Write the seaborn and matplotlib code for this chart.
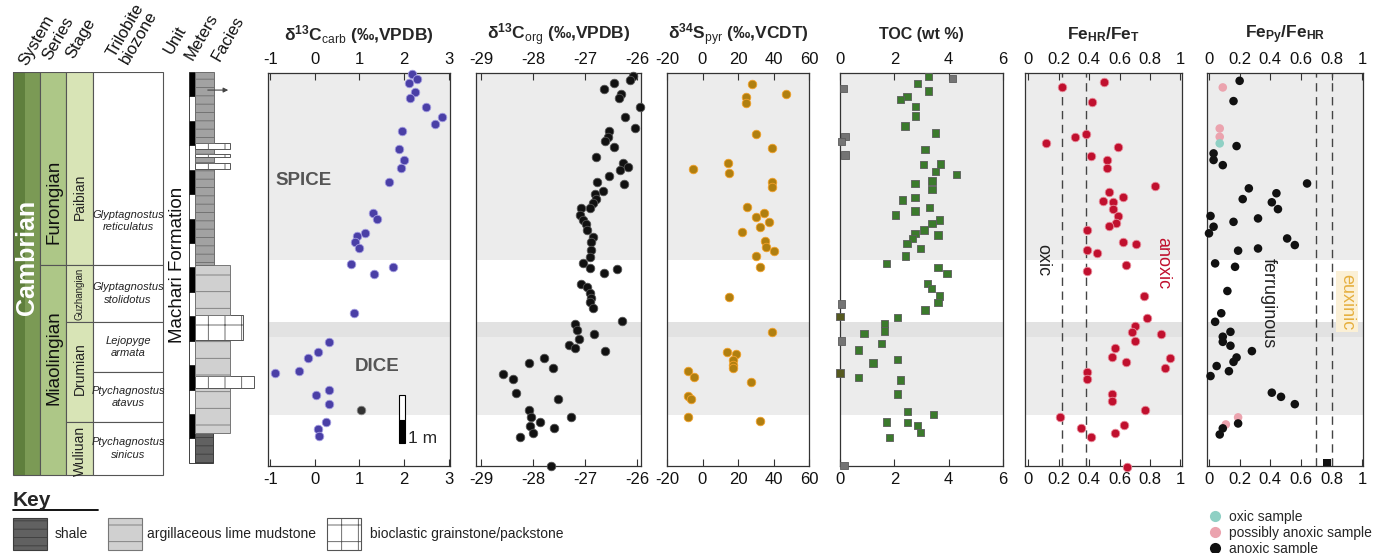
import matplotlib
matplotlib.use("Agg")
import matplotlib.pyplot as plt
import seaborn as sns
import pandas as pd


# ---------------- data (stratigraphic height in m, measured values) ----------------
carb_h = [15.92, 15.71, 15.55, 15.18, 14.93, 14.57, 14.16, 13.87, 13.58, 12.85,
          12.40, 12.07, 11.50, 10.23, 9.98, 9.41, 9.29, 9.04, 8.80, 8.14,
          8.02, 7.73, 6.15, 4.95, 4.55, 4.31, 3.78, 3.67, 2.99, 2.78,
          2.41, 1.68, 1.39, 1.10]
carb_v = [2.18, 2.28, 2.10, 2.24, 2.13, 2.49, 2.84, 2.69, 1.96, 1.88,
          2.00, 1.94, 1.66, 1.30, 1.39, 1.12, 0.95, 0.89, 0.98, 0.80,
          1.76, 1.33, 0.87, 0.32, 0.06, -0.15, -0.36, -0.89, 0.32, 0.02,
          0.32, 0.25, 0.06, 0.10]
carb_odd_h = [2.17]
carb_odd_v = [1.04]

org_h = [15.83, 15.67, 15.55, 15.30, 15.10, 14.93, 14.57, 14.16, 13.71, 13.58,
         13.34, 13.18, 12.93, 12.52, 12.27, 12.11, 11.99, 11.74, 11.50, 11.42,
         11.13, 11.01, 10.80, 10.64, 10.43, 10.43, 10.15, 9.94, 9.78, 9.53,
         9.25, 9.04, 8.72, 8.43, 8.18, 7.98, 7.94, 7.77, 7.32, 7.21,
         6.96, 6.75, 6.59, 6.35, 5.81, 5.69, 5.44, 5.28, 5.07, 4.83,
         4.71, 4.58, 4.31, 4.10, 3.87, 3.65, 3.45, 2.88, 2.62, 2.17,
         1.88, 1.87, 1.68, 1.51, 1.43, 1.24, 1.08, -0.11]
org_v = [-26.08, -26.15, -26.45, -26.64, -26.32, -26.35, -25.95, -26.23, -26.04, -26.55,
         -26.57, -26.62, -26.45, -26.80, -26.27, -26.18, -26.34, -26.55, -26.77, -26.26,
         -26.66, -26.82, -26.80, -26.85, -26.91, -27.08, -27.10, -27.04, -26.98, -26.96,
         -26.85, -26.90, -26.90, -26.91, -27.04, -26.91, -26.40, -26.64, -27.08, -26.96,
         -26.91, -26.90, -26.91, -26.86, -26.29, -27.20, -27.16, -26.84, -27.12, -27.31,
         -27.20, -26.62, -27.79, -28.09, -27.63, -28.59, -28.38, -28.33, -27.52, -28.09,
         -27.28, -28.04, -27.88, -28.06, -27.60, -28.01, -28.25, -27.66]

sulf_h = [15.51, 15.10, 14.99, 14.72, 13.45, 12.88, 12.29, 12.02, 11.85, 11.51,
          11.28, 10.46, 10.24, 10.05, 9.85, 9.64, 9.46, 9.10, 8.83, 8.69,
          8.47, 8.03, 6.80, 5.37, 4.55, 4.45, 4.21, 4.01, 3.87, 3.78,
          3.53, 3.33, 2.74, 2.61, 1.88, 1.73]
sulf_v = [28.1, 47.0, 24.5, 24.5, 30.0, 39.0, 14.4, -5.6, 15.0, 39.0,
          39.0, 24.8, 34.5, 30.3, 37.3, 32.2, 22.1, 35.4, 36.0, 40.0,
          30.3, 32.3, 15.0, 39.0, 13.9, 18.6, 17.2, 17.2, 17.2, -8.4,
          -4.8, 27.2, -8.4, -6.6, -8.4, 32.3]

toc_h = [15.81, 15.74, 15.54, 15.33, 15.23, 14.99, 14.88, 14.58, 14.20, 13.79,
         13.51, 13.35, 13.15, 12.84, 12.60, 12.23, 12.22, 11.92, 11.81, 11.54,
         11.44, 11.20, 10.86, 10.76, 10.46, 10.31, 10.15, 9.94, 9.81, 9.53,
         9.40, 9.33, 9.19, 8.99, 8.78, 8.47, 8.17, 7.99, 7.76, 7.35,
         7.15, 6.83, 6.58, 6.51, 6.26, 6.01, 5.95, 5.72, 5.41, 5.31,
         5.00, 4.90, 4.62, 4.24, 4.10, 3.69, 3.51, 3.40, 2.82, 2.10,
         1.99, 1.68, 1.67, 1.55, 1.24, 1.05, -0.11]
toc_v = [3.25, 4.15, 2.85, 0.12, 3.25, 2.46, 2.22, 2.79, 2.79, 2.39,
         3.52, 0.18, 0.06, 3.13, 0.18, 3.70, 3.07, 3.52, 4.28, 3.39,
         2.76, 3.39, 2.76, 2.30, 3.30, 2.76, 2.04, 3.67, 3.39, 3.09,
         2.76, 3.61, 2.67, 2.46, 2.97, 2.42, 1.72, 3.61, 3.94, 3.21,
         3.37, 3.67, 3.61, 0.06, 3.13, 0.00, 2.12, 1.64, 1.64, 0.88,
         0.06, 1.52, 0.67, 2.12, 1.21, 0.00, 0.67, 2.22, 2.12, 2.48,
         3.45, 1.70, 2.48, 2.85, 2.97, 1.82, 0.15]
toc_kind = ["g", "y", "g", "y", "g", "g", "g", "g", "g", "g",
            "g", "y", "y", "g", "y", "g", "g", "g", "g", "g",
            "g", "g", "g", "g", "g", "g", "g", "g", "g", "g",
            "g", "g", "g", "g", "g", "g", "g", "g", "g", "g",
            "g", "g", "g", "y", "g", "d", "g", "g", "g", "g",
            "y", "g", "g", "g", "g", "d", "g", "g", "g", "g",
            "g", "g", "g", "g", "g", "g", "y"]

fehr_h = [15.60, 15.37, 14.76, 13.45, 13.35, 13.11, 12.94, 12.57, 12.40, 12.08,
          11.35, 11.10, 10.90, 10.73, 10.69, 10.39, 10.11, 9.83, 9.70, 9.53,
          9.05, 8.95, 8.72, 8.60, 8.10, 7.87, 6.85, 5.95, 5.61, 5.37,
          5.27, 4.99, 4.69, 4.32, 4.31, 4.12, 3.87, 3.71, 3.44, 2.82,
          2.54, 2.17, 1.88, 1.55, 1.42, 1.22, 1.08, -0.15]
fehr_v = [0.50, 0.22, 0.42, 0.38, 0.31, 0.12, 0.59, 0.41, 0.52, 0.52,
          0.83, 0.53, 0.62, 0.49, 0.56, 0.56, 0.59, 0.58, 0.53, 0.39,
          0.62, 0.71, 0.39, 0.45, 0.64, 0.39, 0.76, 0.78, 0.70, 0.68,
          0.87, 0.70, 0.57, 0.55, 0.93, 0.64, 0.90, 0.39, 0.39, 0.55,
          0.55, 0.77, 0.21, 0.63, 0.35, 0.57, 0.41, 0.65]

fepy_h = [15.64, 15.37, 14.81, 13.69, 13.35, 13.08, 12.97, 12.67, 12.40, 12.19,
          11.44, 11.24, 11.04, 10.80, 10.67, 10.39, 10.11, 10.01, 9.87, 9.67,
          9.40, 9.19, 8.92, 8.78, 8.69, 8.17, 8.03, 7.04, 6.13, 5.78,
          5.37, 5.17, 4.96, 4.80, 4.58, 4.32, 4.14, 3.97, 3.76, 3.56,
          2.88, 2.71, 2.41, 1.87, 1.62, 1.58, 1.42, 1.17]
fepy_v = [0.20, 0.09, 0.16, 0.07, 0.07, 0.07, 0.18, 0.03, 0.03, 0.09,
          0.64, 0.26, 0.44, 0.22, 0.41, 0.45, 0.01, 0.32, 0.16, 0.03,
          0.00, 0.51, 0.56, 0.32, 0.19, 0.04, 0.17, 0.12, 0.08, 0.04,
          0.14, 0.09, 0.09, 0.14, 0.28, 0.18, 0.16, 0.05, 0.13, 0.01,
          0.41, 0.47, 0.56, 0.19, 0.19, 0.11, 0.09, 0.07]
fepy_kind = ["anoxic sample", "possibly anoxic sample", "anoxic sample",
             "possibly anoxic sample", "possibly anoxic sample", "oxic sample",
             "anoxic sample", "anoxic sample", "anoxic sample", "anoxic sample",
             "anoxic sample", "anoxic sample", "anoxic sample", "anoxic sample",
             "anoxic sample", "anoxic sample", "anoxic sample", "anoxic sample",
             "anoxic sample", "anoxic sample", "anoxic sample", "anoxic sample",
             "anoxic sample", "anoxic sample", "anoxic sample", "anoxic sample",
             "anoxic sample", "anoxic sample", "anoxic sample", "anoxic sample",
             "anoxic sample", "anoxic sample", "anoxic sample", "anoxic sample",
             "anoxic sample", "anoxic sample", "anoxic sample", "anoxic sample",
             "anoxic sample", "anoxic sample", "anoxic sample", "anoxic sample",
             "anoxic sample", "possibly anoxic sample", "anoxic sample",
             "possibly anoxic sample", "anoxic sample", "anoxic sample"]
fepy_sq_h = [0.03]
fepy_sq_v = [0.77]

# stratigraphic framework (m)
series_names = ["Furongian", "Miaolingian"]
series_base = [8.10, -0.5]
series_top = [16.0, 8.10]
stage_names = ["Paibian", "Guzhangian", "Drumian", "Wuliuan"]
stage_base = [8.10, 5.77, 1.68, -0.5]
stage_top = [16.0, 8.10, 5.77, 1.68]
zone_names = ["Glyptagnostus\nreticulatus", "Glyptagnostus\nstolidotus", "Lejopyge\narmata",
              "Ptychagnostus\natavus", "Ptychagnostus\nsinicus"]
zone_base = [8.10, 5.77, 3.72, 1.68, -0.5]
zone_top = [16.0, 8.10, 5.77, 3.72, 1.68]
facies_base = [0.00, 1.23, 3.07, 3.56, 5.03, 6.06, 8.10, 12.03, 12.27, 12.52, 12.64, 12.85, 13.09]
facies_top = [1.23, 3.07, 3.56, 5.03, 6.06, 8.10, 12.03, 12.27, 12.52, 12.64, 12.85, 13.09, 16.0]
facies_type = ["shale", "argillaceous", "bioclastic", "argillaceous", "bioclastic", "argillaceous",
               "shaly", "bioclastic", "shaly", "bioclastic", "shaly", "bioclastic", "shaly"]
meter_marks = list(range(16))
shade_bands = [(8.31, 16.1), (1.96, 5.77)]

# ---------------- layout / style ----------------
W, H = 1376, 553
facies_width = [18, 35, 59, 35, 48, 35, 19, 35, 19, 35, 19, 35, 19]
facies_style = {
    "shale": dict(color="#616161", hatch="--", edgecolor="#3c3c3c"),
    "shaly": dict(color="#a2a2a2", hatch="--", edgecolor="#6c6c6c"),
    "argillaceous": dict(color="#d0d0d0", hatch="-", edgecolor="#777777"),
    "bioclastic": dict(color="white", hatch="+", edgecolor="#555555"),
}
sample_palette = {"oxic sample": "#8fd0c4", "possibly anoxic sample": "#eba3ae",
                  "anoxic sample": "#111111"}

sns.set_style("white")
plt.rcParams["font.family"] = ["Liberation Sans", "DejaVu Sans"]
plt.rcParams["mathtext.fontset"] = "custom"
plt.rcParams["mathtext.rm"] = "Liberation Sans"
plt.rcParams["mathtext.bf"] = "Liberation Sans:bold"
plt.rcParams["mathtext.it"] = "Liberation Sans:italic"
plt.rcParams["hatch.linewidth"] = 0.6
plt.rcParams["axes.unicode_minus"] = False


def rect(left, top, right, bottom):
    return [left / W, 1 - bottom / H, (right - left) / W, (bottom - top) / H]


fig = plt.figure(figsize=(W / 100, H / 100), dpi=100)

# layout layer for headers and key
lay = fig.add_axes([0, 0, 1, 1], zorder=-1)
lay.set_xlim(0, W)
lay.set_ylim(H, 0)
lay.axis("off")

headers = [("System", 37, 40), ("Series", 58, 38), ("Stage", 81, 38),
           ("Trilobite\nbiozone", 132, 34), ("Unit", 175, 40), ("Meters", 201, 37),
           ("Facies", 228, 38)]
for txt, hx, hy in headers:
    lay.text(hx, hy, txt, rotation=60, ha="center", va="center", fontsize=12,
             linespacing=0.95, color="#111")

# key
lay.text(13, 500, "Key", fontsize=15, fontweight="bold", ha="left", va="center")
lay.plot([13, 98], [510, 510], color="black", lw=1.3)
key_items = [("shale", 13, 55), ("argillaceous", 108, 147), ("bioclastic", 327, 370)]
key_text = {"shale": "shale", "argillaceous": "argillaceous lime mudstone",
            "bioclastic": "bioclastic grainstone/packstone"}
for kind, kx, tx in key_items:
    st = facies_style[kind]
    lay.bar(kx + 17, 32, bottom=518, width=34, color=st["color"], hatch=st["hatch"],
            edgecolor=st["edgecolor"], linewidth=0.8)
    lay.text(tx, 534, key_text[kind], fontsize=10, ha="left", va="center", color="#222")

# ---------------- stratigraphic column ----------------
col = fig.add_axes(rect(0, 72, 260, 480))
col.set_xlim(0, 260)
col.set_ylim(-0.70, 16.0)
col.axis("off")
edge = dict(edgecolor="#555555", linewidth=0.8)

col.bar(19, 16.5, bottom=-0.5, width=12, color="#5f7f3d", linewidth=0)
col.bar(32.5, 16.5, bottom=-0.5, width=15, color="#7b9a55", linewidth=0)
col.bar(26.5, 16.5, bottom=-0.5, width=27, color="none", **edge)
col.text(27, 8.4, "Cambrian", rotation=90, ha="center", va="center", fontsize=18,
         fontweight="bold", color="white")

for name, b, t in zip(series_names, series_base, series_top):
    col.bar(53, t - b, bottom=b, width=26, color="#adc787", **edge)
    col.text(54, 10.7 if name == "Furongian" else 4.3, name, rotation=90, ha="center",
             va="center", fontsize=13.5, color="#111")

for name, b, t in zip(stage_names, stage_base, stage_top):
    col.bar(79.5, t - b, bottom=b, width=27, color="#d8e4b6", **edge)
    ypos = {"Paibian": 10.9, "Guzhangian": (b + t) / 2, "Drumian": 3.85, "Wuliuan": 0.5}[name]
    col.text(79.5, ypos, name, rotation=90, ha="center", va="center",
             fontsize=7 if name == "Guzhangian" else 10, color="#222")

for name, b, t in zip(zone_names, zone_base, zone_top):
    col.bar(128, t - b, bottom=b, width=70, color="white", **edge)
    ypos = 9.9 if b > 8 else (b + t) / 2
    col.text(128, ypos, name, ha="center", va="center", fontsize=8, style="italic",
             color="#222", linespacing=1.3)

col.text(177, 8.1, "Machari Formation", rotation=90, ha="center", va="center",
         fontsize=13.5, color="#111")

for m in meter_marks:
    col.bar(192, 1, bottom=m, width=6, color="black" if m % 2 else "white",
            edgecolor="#222", linewidth=0.6)

for b, t, kind, w in zip(facies_base, facies_top, facies_type, facies_width):
    st = facies_style[kind]
    col.bar(195 + w / 2, t - b, bottom=b, width=w, color=st["color"], hatch=st["hatch"],
            edgecolor=st["edgecolor"], linewidth=0.7)
col.annotate("", xy=(231, 15.26), xytext=(205, 15.26),
             arrowprops=dict(arrowstyle="-|>", lw=0.8, color="#444", mutation_scale=7))

# ---------------- geochemistry panels ----------------
panels = [
    (268, 450, (-1.05, 3.03), [-1, 0, 1, 2, 3], None,
     r"δ$^{\mathbf{13}}$C$_{\mathrm{carb}}$ (‰,VPDB)"),
    (476, 641, (-29.1, -25.93), [-29, -28, -27, -26], None,
     r"δ$^{\mathbf{13}}$C$_{\mathrm{org}}$ (‰,VPDB)"),
    (667, 809, (-20, 60), [-20, 0, 20, 40, 60], None,
     r"δ$^{\mathbf{34}}$S$_{\mathrm{pyr}}$ (‰,VCDT)"),
    (840, 1003, (0, 6), [0, 2, 4, 6], None, "TOC (wt %)"),
    (1025, 1182, (-0.02, 1.01), [0, 0.2, 0.4, 0.6, 0.8, 1],
     ["0", "0.2", "0.4", "0.6", "0.8", "1"], r"Fe$_{\mathbf{HR}}$/Fe$_{\mathbf{T}}$"),
    (1207, 1363, (-0.013, 1.005), [0, 0.2, 0.4, 0.6, 0.8, 1],
     ["0", "0.2", "0.4", "0.6", "0.8", "1"], r"Fe$_{\mathbf{Py}}$/Fe$_{\mathbf{HR}}$"),
]
axes = []
for left, right, xlim, ticks, labels, title in panels:
    ax = fig.add_axes(rect(left, 73, right, 466))
    ax.set_xlim(*xlim)
    ax.set_ylim(-0.12, 15.96)
    for b, t in shade_bands:
        ax.axhspan(b, t, color="#ececec", zorder=0, lw=0)
    ax.axhspan(5.16, 5.77, color="#e2e2e2", zorder=0, lw=0)
    ax.set_xticks(ticks)
    if labels:
        ax.set_xticklabels(labels)
    ax.tick_params(axis="x", direction="in", top=True, labeltop=True, bottom=True,
                   labelbottom=True, length=5, width=0.8, pad=4, labelsize=12,
                   colors="#333", labelcolor="#111")
    ax.tick_params(axis="y", left=False, labelleft=False)
    for sp in ax.spines.values():
        sp.set_color("#333")
        sp.set_linewidth(0.9)
    ax.text(0.5, 1 + 38 / 393, title, transform=ax.transAxes, ha="center", va="center",
            fontsize=12.5 if "TOC" not in title else 11.5, fontweight="bold")
    axes.append(ax)

ax1, ax2, ax3, ax4, ax5, ax6 = axes
dot = dict(s=38, linewidth=0.6, zorder=3, clip_on=False, legend=False)

sns.scatterplot(x=carb_v, y=carb_h, ax=ax1, color="#4a3fa6", edgecolor="#a29be0", **dot)
sns.scatterplot(x=carb_odd_v, y=carb_odd_h, ax=ax1, color="#333333", edgecolor="#888", **dot)
ax1.text(-0.26, 11.58, "SPICE", fontsize=13.5, fontweight="bold", color="#555",
         ha="center", va="center")
ax1.text(1.39, 3.97, "DICE", fontsize=13.5, fontweight="bold", color="#555",
         ha="center", va="center")
ax1.bar([1.95, 1.95], [0.96, 1.0], bottom=[0.82, 1.78], width=0.13,
        color=["black", "white"], edgecolor="black", linewidth=0.8, zorder=3)
ax1.text(2.42, 1.0, "1 m", fontsize=12.5, ha="center", va="center")

sns.scatterplot(x=org_v, y=org_h, ax=ax2, color="#111111", edgecolor="#555", **dot)

sns.scatterplot(x=sulf_v, y=sulf_h, ax=ax3, color="#b07f10", edgecolor="#f2a12a", **dot)

toc_df = pd.DataFrame({"h": toc_h, "v": toc_v, "kind": toc_kind})
sns.scatterplot(data=toc_df, x="v", y="h", hue="kind", ax=ax4, marker="s", s=28,
                palette={"g": "#3b7a2c", "y": "#747474", "d": "#55591f"},
                edgecolor="#5c5c5c", linewidth=0.6, zorder=3, clip_on=False, legend=False)

for xv in (0.22, 0.38):
    ax5.axvline(xv, color="#444", lw=1, ls=(0, (6, 4)), zorder=1)
sns.scatterplot(x=fehr_v, y=fehr_h, ax=ax5, color="#c0102e", edgecolor="#e88a9a", **dot)
ax5.text(0.095, 8.3, "oxic", rotation=270, ha="center", va="center", fontsize=13, color="#222")
ax5.text(0.885, 8.2, "anoxic", rotation=270, ha="center", va="center", fontsize=13,
         color="#c0102e")

for xv in (0.7, 0.8):
    ax6.axvline(xv, color="#444", lw=1, ls=(0, (6, 4)), zorder=1)
fepy_df = pd.DataFrame({"h": fepy_h, "v": fepy_v, "sample": fepy_kind})
sns.scatterplot(data=fepy_df, x="v", y="h", hue="sample", ax=ax6, palette=sample_palette,
                hue_order=list(sample_palette), s=38, edgecolor="none", zorder=3,
                clip_on=False)
sns.scatterplot(x=fepy_sq_v, y=fepy_sq_h, ax=ax6, marker="s", color="#111", s=30,
                edgecolor="none", zorder=3, clip_on=False, legend=False)
ax6.text(0.384, 6.55, "ferruginous", rotation=270, ha="center", va="center", fontsize=13,
         color="#222")
ax6.text(0.9, 6.6, "euxinic", rotation=270, ha="center", va="center", fontsize=13,
         color="#e6b040", bbox=dict(facecolor="#fbf0d6", edgecolor="none", pad=1.5))
sns.move_legend(ax6, loc="upper left", bbox_to_anchor=(1196 / W, 1 - 497 / H),
                bbox_transform=fig.transFigure, frameon=False, title=None, fontsize=10,
                handletextpad=0.5, labelspacing=0.15, borderpad=0.4, handlelength=1.0,
                markerscale=1.3)

for ax in axes:
    ax.set_xlabel("")
    ax.set_ylabel("")

fig.savefig("out.png", dpi=100)
